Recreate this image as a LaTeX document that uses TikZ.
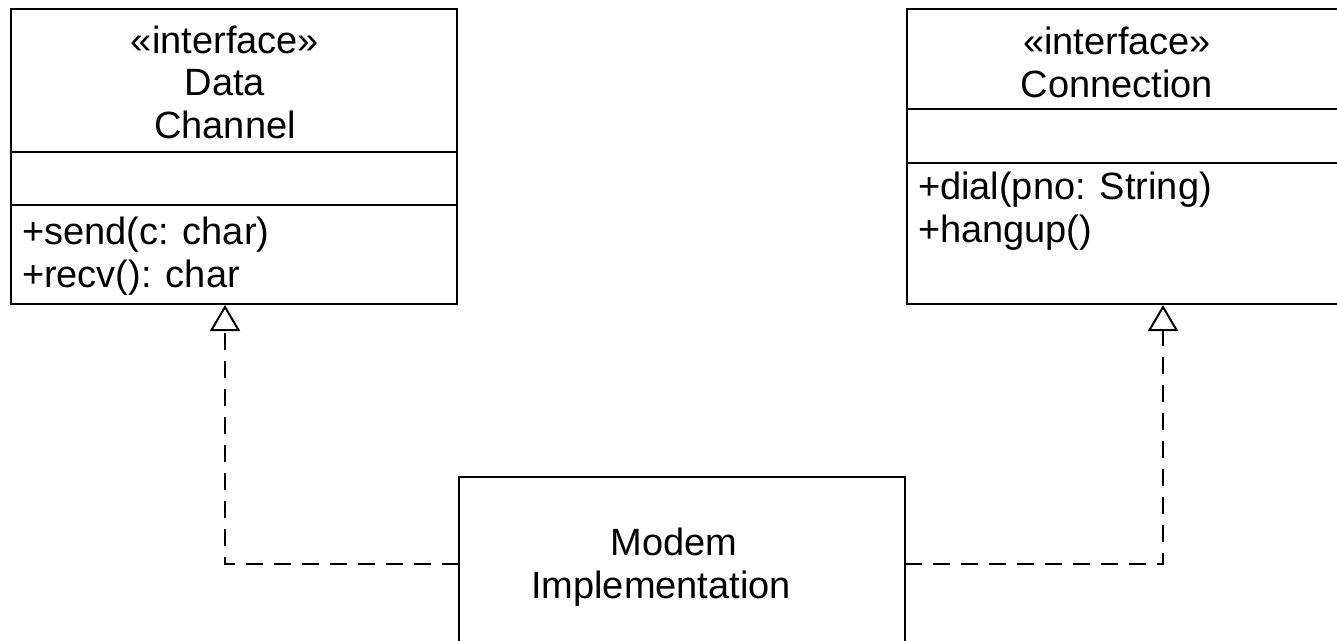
\documentclass[tikz,border=0pt]{standalone}
\usepackage{fontspec}
\setmainfont{Liberation Sans}
\usetikzlibrary{arrows.meta}
\begin{document}
\begin{tikzpicture}[x=1pt,y=-1pt,
  compartment/.style={draw, line width=2pt, inner sep=0pt, outer sep=0pt,
    anchor=north west, minimum width=446pt},
  txt/.style={font=\fontsize{38}{42.5}\selectfont, inner sep=0pt, outer sep=0pt},
  realizes/.style={line width=2pt, dash pattern=on 17pt off 11pt,
    -{Triangle[open,length=26pt,width=30pt,line width=2pt]}}]
  \useasboundingbox (0,0) rectangle (1337,640);
  \clip (0,0) rectangle (1337,640);

  % DataChannel interface
  \node[compartment, minimum height=143pt] (dcTitle) at (11,9) {};
  \node[compartment, minimum height=53pt]  (dcAttr)  at (11,152) {};
  \node[compartment, minimum height=99pt]  (dcOps)   at (11,205) {};
  \node[txt, align=center, anchor=base] (dcName) at (225,138)
    {«interface»\\Data\\Channel};
  \node[txt, align=left, anchor=base west] (dcMeth) at (22,287)
    {+send(c: char)\\+recv(): char};

  % Connection interface
  \node[compartment, minimum height=100pt] (cnTitle) at (907,9) {};
  \node[compartment, minimum height=54pt]  (cnAttr)  at (907,109) {};
  \node[compartment, minimum height=141pt] (cnOps)   at (907,163) {};
  \node[txt, align=center, anchor=base] (cnName) at (1117,97)
    {«interface»\\Connection};
  \node[txt, align=left, anchor=base west] (cnMeth) at (918,242)
    {+dial(pno: String)\\+hangup()};

  % Implementing class
  \node[compartment, minimum width=446pt, minimum height=173pt] (modem) at (459,477) {};
  \node[txt, align=center, anchor=base] (modemName) at (661,598)
    {\hspace*{26pt}Modem\\Implementation};

  % Realization arrows
  \coordinate (dcTip) at (225,305);
  \coordinate (cnTip) at (1163,305);
  \draw[realizes] (modem.west) -| (dcTip);
  \draw[realizes] (modem.east) -| (cnTip);
\end{tikzpicture}
\end{document}
